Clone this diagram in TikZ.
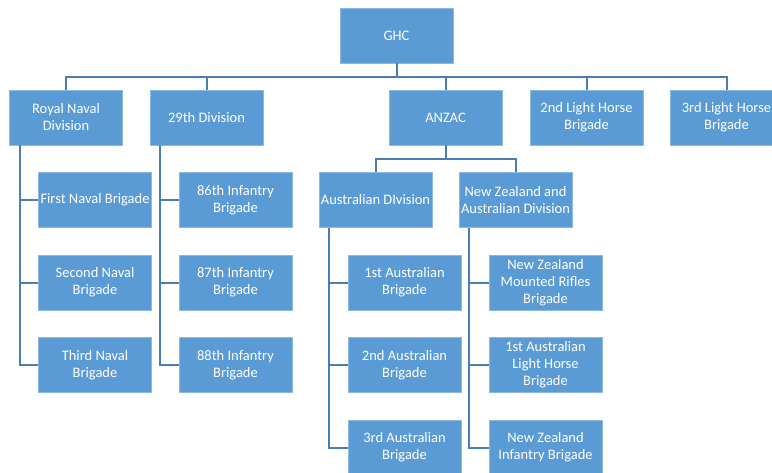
\documentclass[tikz,border=0pt]{standalone}
\usepackage{fontspec}
\setmainfont{Carlito}
\usetikzlibrary{calc}
\definecolor{boxfill}{RGB}{91,155,213}
\definecolor{boxline}{RGB}{140,185,228}
\definecolor{connline}{RGB}{72,126,177}
\tikzset{
  unit/.style={rectangle, fill=boxfill, draw=boxline, line width=0.8pt,
    minimum width=113pt, minimum height=55pt, inner xsep=0pt, inner ysep=1pt,
    align=center, text=white,
    font=\fontsize{14.5pt}{17pt}\selectfont},
  conn/.style={draw=connline, line width=2pt}
}
\begin{document}
\begin{tikzpicture}[x=1pt,y=-1pt]
\useasboundingbox (0,0) rectangle (772,472);
\clip (0,0) rectangle (772,472);
\fill[white] (0,0) rectangle (772,472);

% top level
\node[unit] (ghc) at (396.5,35.5) {GHC};

% divisions and independent brigades
\node[unit] (rnd)   at (66,117.5)    {Royal Naval\\Division};
\node[unit] (div29) at (206.5,117.5) {29th Division};
\node[unit] (anzac) at (445.5,117.5) {ANZAC};
\node[unit] (lh2)   at (586.5,117.5) {2nd Light Horse\\Brigade};
\node[unit] (lh3)   at (726.5,117.5) {3rd Light Horse\\Brigade};

% ANZAC divisions
\node[unit] (ausdiv) at (375.5,200) {Australian DIvision};
\node[unit] (nzadiv) at (515.5,200) {New Zealand and\\Australian Division};

% Royal Naval Division brigades
\node[unit] (nb1) at (95,200)   {First Naval Brigade};
\node[unit] (nb2) at (95,282.5) {Second Naval\\Brigade};
\node[unit] (nb3) at (95,365)   {Third Naval\\Brigade};

% 29th Division brigades
\node[unit] (ib86) at (235.5,200)   {86th Infantry\\Brigade};
\node[unit] (ib87) at (235.5,282.5) {87th Infantry\\Brigade};
\node[unit] (ib88) at (235.5,365)   {88th Infantry\\Brigade};

% Australian Division brigades
\node[unit] (ab1) at (404.5,282.5) {1st Australian\\Brigade};
\node[unit] (ab2) at (404.5,365)   {2nd Australian\\Brigade};
\node[unit] (ab3) at (404.5,447.5) {3rd Australian\\Brigade};

% New Zealand and Australian Division brigades
\node[unit] (nzmr) at (545.5,282.5) {New Zealand\\Mounted Rifles\\Brigade};
\node[unit] (lhb1) at (545.5,365)   {1st Australian\\Light Horse\\Brigade};
\node[unit] (nzib) at (545.5,447.5) {New Zealand\\Infantry Brigade};

% GHC to its subordinates
\foreach \c in {rnd,div29,anzac,lh2,lh3}
  \draw[conn] (ghc.south) -- (ghc.south |- 0,77) -| (\c.north);

% ANZAC to its divisions
\foreach \c in {ausdiv,nzadiv}
  \draw[conn] (anzac.south) -- (anzac.south |- 0,159) -| (\c.north);

% divisions to brigades
\foreach \c in {nb1,nb2,nb3}
  \draw[conn] ([xshift=10.5pt]rnd.south west) |- (\c.west);
\foreach \c in {ib86,ib87,ib88}
  \draw[conn] ([xshift=10.5pt]div29.south west) |- (\c.west);
\foreach \c in {ab1,ab2,ab3}
  \draw[conn] ([xshift=10.5pt]ausdiv.south west) |- (\c.west);
\foreach \c in {nzmr,lhb1,nzib}
  \draw[conn] ([xshift=10.5pt]nzadiv.south west) |- (\c.west);
\end{tikzpicture}
\end{document}
